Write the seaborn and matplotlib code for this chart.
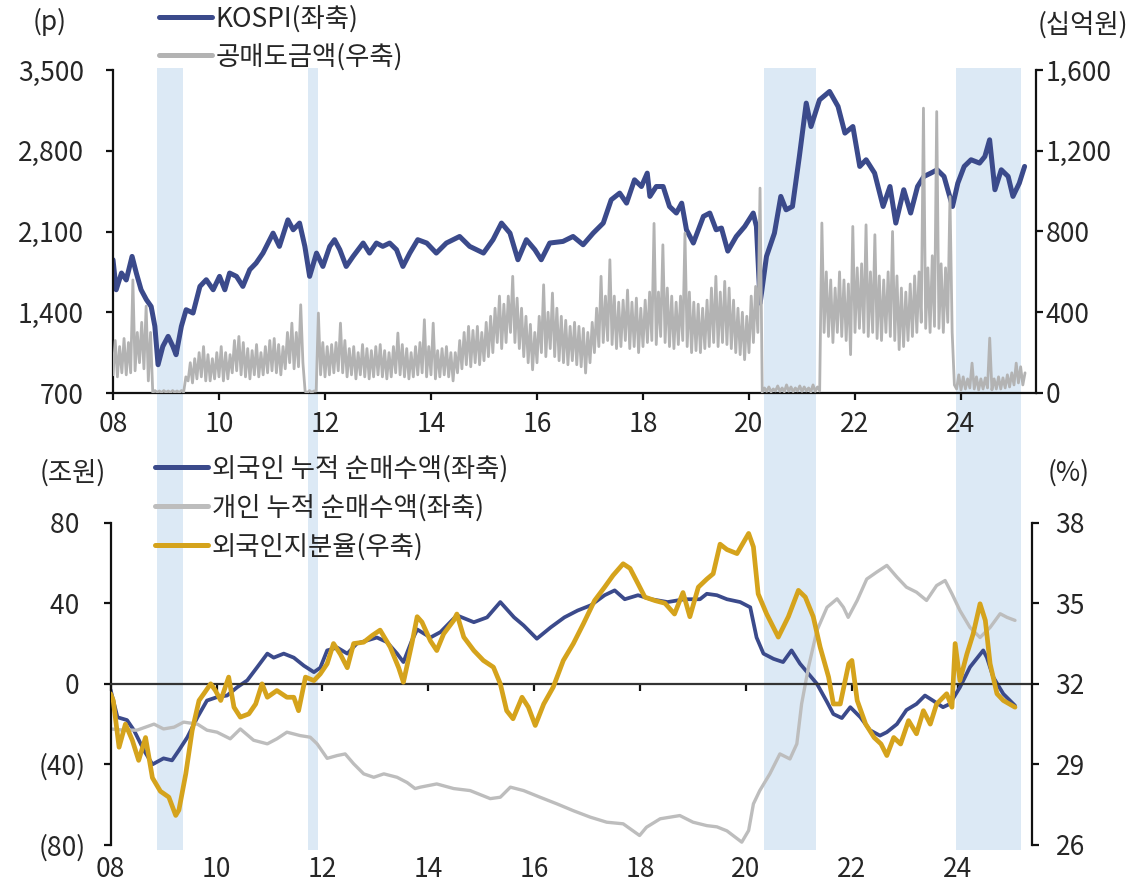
import numpy as np
import pandas as pd
import matplotlib
matplotlib.use("Agg")
import matplotlib.pyplot as plt
import seaborn as sns
from matplotlib.lines import Line2D

sns.set_theme(style="white")
plt.rcParams["font.family"] = ["Noto Sans CJK KR", "DejaVu Sans"]
plt.rcParams["axes.unicode_minus"] = False

# ---------------- data ----------------
# shaded periods (short-selling ban), decimal years
shade_start = [2008.83, 2011.68, 2020.28, 2023.91]
shade_end = [2009.33, 2011.87, 2021.26, 2025.14]

# KOSPI (p, left axis of top panel)
kospi_t = [2008.00, 2008.06, 2008.16, 2008.25, 2008.36, 2008.44, 2008.53, 2008.63, 2008.72, 2008.79,
           2008.85, 2008.94, 2009.04, 2009.13, 2009.19, 2009.29, 2009.38, 2009.51, 2009.64, 2009.76,
           2009.89, 2010.01, 2010.11, 2010.20, 2010.33, 2010.45, 2010.58, 2010.70, 2010.83, 2011.02,
           2011.14, 2011.30, 2011.40, 2011.52, 2011.62, 2011.71, 2011.84, 2011.96, 2012.09, 2012.18,
           2012.28, 2012.40, 2012.53, 2012.72, 2012.84, 2012.97, 2013.09, 2013.22, 2013.35, 2013.47,
           2013.60, 2013.75, 2013.92, 2014.10, 2014.29, 2014.54, 2014.73, 2014.99, 2015.17, 2015.33,
           2015.49, 2015.64, 2015.80, 2015.96, 2016.08, 2016.24, 2016.49, 2016.68, 2016.87, 2017.06,
           2017.25, 2017.40, 2017.56, 2017.69, 2017.84, 2017.97, 2018.08, 2018.13, 2018.25, 2018.38,
           2018.50, 2018.63, 2018.73, 2018.82, 2018.95, 2019.14, 2019.26, 2019.38, 2019.48, 2019.60,
           2019.76, 2019.92, 2020.08, 2020.14, 2020.21, 2020.33, 2020.48, 2020.60, 2020.70, 2020.82,
           2020.95, 2021.08, 2021.17, 2021.33, 2021.52, 2021.68, 2021.81, 2021.96, 2022.09, 2022.21,
           2022.37, 2022.53, 2022.66, 2022.77, 2022.92, 2023.05, 2023.18, 2023.30, 2023.43, 2023.55,
           2023.68, 2023.84, 2023.94, 2024.06, 2024.19, 2024.35, 2024.45, 2024.54, 2024.64, 2024.76,
           2024.89, 2024.98, 2025.10, 2025.20]
kospi_v = [1855, 1595, 1740, 1680, 1884, 1740, 1595, 1509, 1450, 1278,
           945, 1104, 1191, 1104, 1032, 1278, 1422, 1393, 1624, 1682,
           1595, 1711, 1595, 1740, 1711, 1624, 1769, 1826, 1913, 2086,
           1971, 2201, 2115, 2173, 1971, 1711, 1913, 1797, 1971, 2029,
           1942, 1797, 1884, 2000, 1913, 2000, 1971, 2000, 1942, 1797,
           1913, 2029, 2000, 1913, 2000, 2057, 1971, 1913, 2029, 2173,
           2086, 1855, 2029, 1942, 1855, 2000, 2014, 2057, 1985, 2086,
           2173, 2375, 2433, 2346, 2548, 2490, 2606, 2404, 2490, 2490,
           2317, 2260, 2346, 2115, 2000, 2231, 2260, 2115, 2130, 1930,
           2057, 2144, 2260, 2144, 1480, 1884, 2086, 2404, 2288, 2317,
           2750, 3213, 3010, 3241, 3314, 3184, 2953, 3010, 2664, 2722,
           2606, 2317, 2490, 2173, 2462, 2260, 2490, 2577, 2606, 2635,
           2577, 2317, 2519, 2664, 2722, 2693, 2750, 2895, 2462, 2635,
           2577, 2404, 2519, 2664]

# short-selling amount (KRW bn, right axis of top panel): monthly readings,
# one early in the month and one mid-month, Jan 2008 .. Mar 2025
short_early = [90, 80, 100, 90, 100, 110, 150, 120, 60, 2, 3, 2,
               3, 2, 3, 2, 5, 60, 50, 70, 80, 60, 60, 70,
               80, 60, 70, 100, 110, 90, 80, 70, 90, 80, 90, 100,
               110, 100, 90, 120, 150, 120, 130, 150, 2, 3, 10, 90,
               80, 90, 100, 110, 100, 80, 90, 70, 90, 80, 70, 80,
               90, 80, 70, 80, 100, 90, 80, 70, 80, 90, 100, 80,
               90, 70, 80, 90, 80, 60, 100, 120, 140, 130, 150, 140,
               160, 180, 200, 250, 220, 250, 300, 250, 220, 180, 150, 115,
               150, 200, 180, 220, 180, 160, 150, 140, 160, 140, 130, 99,
               150, 200, 230, 250, 260, 240, 220, 230, 260, 220, 230, 200,
               230, 250, 260, 240, 280, 250, 230, 220, 240, 260, 230, 200,
               210, 200, 220, 230, 250, 230, 250, 240, 220, 200, 190, 165,
               200, 250, 300, 5, 8, 6, 10, 8, 6, 9, 7, 10,
               8, 10, 6, 8, 10, 300, 280, 250, 300, 280, 260, 190,
               300, 320, 300, 280, 300, 270, 260, 300, 280, 260, 215, 230,
               260, 280, 300, 350, 320, 300, 330, 320, 300, 350, 300, 20,
               15, 20, 25, 20, 15, 20, 25, 15, 20, 20, 25, 30,
               40, 50, 40]
short_mid = [260, 230, 270, 250, 560, 300, 350, 430, 300, 12, 10, 12,
             10, 12, 10, 12, 80, 150, 170, 200, 230, 190, 170, 200,
             230, 200, 190, 260, 280, 250, 220, 210, 240, 200, 230, 260,
             270, 240, 230, 300, 346, 300, 437, 8, 12, 10, 396, 250,
             230, 240, 250, 346, 260, 220, 230, 200, 240, 220, 210, 230,
             240, 210, 200, 230, 297, 240, 220, 200, 230, 250, 363, 230,
             346, 210, 220, 230, 200, 200, 260, 300, 330, 310, 330, 300,
             350, 380, 420, 480, 440, 480, 578, 470, 420, 380, 340, 300,
             380, 536, 400, 495, 420, 380, 360, 330, 350, 330, 320, 300,
             350, 420, 578, 480, 660, 480, 450, 460, 510, 450, 470, 420,
             460, 500, 840, 500, 734, 520, 480, 450, 480, 792, 500, 450,
             440, 420, 460, 520, 578, 500, 553, 520, 460, 420, 400, 380,
             480, 528, 1015, 25, 30, 20, 35, 25, 40, 30, 25, 35,
             30, 25, 40, 30, 842, 600, 560, 520, 600, 560, 540, 825,
             620, 640, 833, 600, 784, 580, 560, 600, 800, 580, 520, 500,
             540, 580, 600, 1411, 620, 680, 1394, 640, 620, 973, 40, 90,
             80, 70, 148, 80, 70, 75, 272, 70, 80, 75, 90, 100,
             148, 130, 100]

# foreign cumulative net buying (KRW tn, left axis of bottom panel)
foreign_t = [2008.00, 2008.13, 2008.31, 2008.44, 2008.63, 2008.79, 2009.00, 2009.16, 2009.29, 2009.45,
             2009.64, 2009.82, 2010.01, 2010.20, 2010.39, 2010.58, 2010.77, 2010.96, 2011.08, 2011.27,
             2011.46, 2011.65, 2011.84, 2011.96, 2012.09, 2012.28, 2012.47, 2012.65, 2012.84, 2013.03,
             2013.22, 2013.41, 2013.53, 2013.69, 2013.79, 2014.04, 2014.23, 2014.54, 2014.86, 2015.11,
             2015.36, 2015.62, 2015.80, 2016.05, 2016.31, 2016.57, 2016.82, 2017.07, 2017.33, 2017.52,
             2017.71, 2017.96, 2018.21, 2018.52, 2018.84, 2019.13, 2019.26, 2019.45, 2019.64, 2019.89,
             2020.08, 2020.20, 2020.33, 2020.52, 2020.70, 2020.86, 2021.02, 2021.18, 2021.34, 2021.53,
             2021.65, 2021.81, 2021.97, 2022.16, 2022.34, 2022.53, 2022.66, 2022.85, 2023.03, 2023.22,
             2023.38, 2023.53, 2023.72, 2023.85, 2024.04, 2024.23, 2024.48, 2024.55, 2024.67, 2024.86,
             2025.08]
foreign_v = [-3, -16.6, -18, -23, -33, -40, -37, -38, -33, -26.5,
             -16.6, -8.3, -6.6, -5.8, -1.7, 1.7, 8.3, 15, 13, 15,
             13, 9, 5.8, 8, 16.6, 18, 15, 20, 21.5, 23,
             20.7, 15, 10.8, 21.5, 27, 23, 25.7, 34, 30.6, 33,
             40.6, 33, 29, 22.4, 28, 33, 36.4, 39, 44, 46.4,
             42, 44, 42, 40.6, 42, 42, 44.7, 44, 42, 40.6,
             38, 23, 15, 12.4, 10.8, 16.6, 10, 5, 0, -9,
             -15, -17, -11.6, -16.6, -23, -25.7, -24, -20, -13, -10,
             -5.8, -8.3, -11.6, -10, -1.7, 8.3, 16.6, 13, 3.3, -5,
             -10.8]

# individual cumulative net buying (KRW tn, left axis of bottom panel)
indiv_t = [2008.00, 2008.25, 2008.50, 2008.82, 2009.00, 2009.20, 2009.38, 2009.64, 2009.82, 2010.01,
           2010.26, 2010.45, 2010.70, 2010.96, 2011.14, 2011.33, 2011.58, 2011.77, 2011.90, 2012.09,
           2012.28, 2012.43, 2012.59, 2012.78, 2012.97, 2013.16, 2013.41, 2013.60, 2013.75, 2013.85,
           2014.16, 2014.48, 2014.79, 2015.17, 2015.36, 2015.55, 2015.80, 2016.11, 2016.43, 2016.74,
           2017.06, 2017.37, 2017.68, 2017.99, 2018.12, 2018.38, 2018.75, 2019.00, 2019.26, 2019.45,
           2019.64, 2019.92, 2020.05, 2020.14, 2020.26, 2020.45, 2020.64, 2020.83, 2020.96, 2021.05,
           2021.18, 2021.34, 2021.53, 2021.72, 2021.84, 2021.93, 2022.10, 2022.28, 2022.47, 2022.66,
           2022.85, 2023.03, 2023.22, 2023.41, 2023.60, 2023.76, 2023.89, 2024.04, 2024.23, 2024.42,
           2024.61, 2024.80, 2024.93, 2025.08]
indiv_v = [-22.4, -23, -23, -20, -22.4, -21.5, -19, -20, -23, -24,
           -27.3, -22.4, -28, -29.8, -27.3, -24, -25.7, -26.5, -29.8, -37,
           -35.6, -34.8, -39.7, -44.7, -46.4, -44.7, -46.4, -49, -52, -51.3,
           -49.7, -52, -53, -57, -56.3, -51.3, -53, -56.3, -59.6, -63,
           -66.2, -68.7, -69.5, -75.3, -71.2, -67, -65.4, -68.7, -70.4, -71,
           -73, -78.6, -72.8, -59.6, -53, -44.7, -34.8, -37.3, -29.8, -10,
           8.3, 26.5, 38, 42.2, 38, 33, 41.4, 52, 55.5, 58.8,
           53, 48, 45.5, 41.4, 48.8, 51.3, 44.7, 36.4, 28, 23,
           28, 34.8, 33, 31.5]

# foreign ownership ratio (%, right axis of bottom panel)
own_t = [2008.00, 2008.05, 2008.16, 2008.28, 2008.41, 2008.53, 2008.66, 2008.79, 2008.94, 2009.10,
         2009.23, 2009.29, 2009.42, 2009.54, 2009.67, 2009.76, 2009.89, 2009.98, 2010.08, 2010.23,
         2010.33, 2010.45, 2010.61, 2010.74, 2010.86, 2010.96, 2011.14, 2011.33, 2011.46, 2011.55,
         2011.68, 2011.84, 2011.96, 2012.09, 2012.21, 2012.34, 2012.47, 2012.59, 2012.78, 2012.94,
         2013.09, 2013.28, 2013.44, 2013.53, 2013.69, 2013.79, 2013.88, 2014.04, 2014.16, 2014.29,
         2014.48, 2014.54, 2014.67, 2014.86, 2015.04, 2015.23, 2015.36, 2015.48, 2015.60, 2015.77,
         2015.89, 2016.02, 2016.18, 2016.36, 2016.55, 2016.74, 2016.93, 2017.14, 2017.33, 2017.49,
         2017.68, 2017.81, 2017.96, 2018.09, 2018.28, 2018.47, 2018.65, 2018.81, 2018.94, 2019.10,
         2019.26, 2019.38, 2019.51, 2019.64, 2019.83, 2020.05, 2020.14, 2020.23, 2020.39, 2020.61,
         2020.80, 2020.99, 2021.12, 2021.27, 2021.40, 2021.56, 2021.65, 2021.78, 2021.94, 2022.00,
         2022.10, 2022.26, 2022.42, 2022.55, 2022.66, 2022.79, 2022.92, 2023.07, 2023.22, 2023.35,
         2023.48, 2023.60, 2023.79, 2023.89, 2023.95, 2024.04, 2024.17, 2024.29, 2024.42, 2024.52,
         2024.61, 2024.74, 2024.86, 2025.08]
own_v = [31.63, 31.38, 29.64, 30.5, 29.9, 29.15, 30.0, 28.5, 28.0, 27.78,
         27.1, 27.3, 28.65, 30.26, 31.38, 31.63, 32.0, 31.75, 31.38, 32.25,
         31.13, 30.76, 30.88, 31.25, 32.0, 31.5, 31.75, 31.5, 31.5, 31.0,
         32.25, 32.12, 32.37, 32.75, 33.5, 33.1, 32.6, 33.5, 33.55, 33.8,
         34.0, 33.37, 32.6, 32.06, 33.5, 34.5, 34.3, 33.6, 33.24, 33.86,
         34.36, 34.6, 33.74, 33.24, 32.87, 32.62, 32.0, 31.0, 30.7, 31.5,
         31.13, 30.45, 31.25, 31.88, 32.87, 33.5, 34.24, 35.1, 35.6, 36.04,
         36.47, 36.3, 35.73, 35.23, 35.1, 35.0, 34.6, 35.4, 34.5, 35.6,
         35.9, 36.1, 37.2, 37.0, 36.85, 37.6, 37.1, 35.35, 34.6, 33.74,
         34.5, 35.48, 35.23, 34.5, 33.37, 32.25, 31.25, 31.25, 32.75, 32.87,
         31.38, 30.5, 30.0, 29.76, 29.33, 30.0, 29.76, 30.63, 30.14, 31.0,
         30.5, 31.25, 31.63, 31.13, 33.5, 32.12, 33.1, 33.86, 34.98, 34.36,
         32.75, 31.63, 31.38, 31.13]

year_ticks = [2008, 2010, 2012, 2014, 2016, 2018, 2020, 2022, 2024]
year_labels = ["08", "10", "12", "14", "16", "18", "20", "22", "24"]
kospi_ticks = [700, 1400, 2100, 2800, 3500]
kospi_labels = ["700", "1,400", "2,100", "2,800", "3,500"]
short_ticks = [0, 400, 800, 1200, 1600]
short_labels = ["0", "400", "800", "1,200", "1,600"]
flow_ticks = [-80, -40, 0, 40, 80]
flow_labels = ["(80)", "(40)", "0 ", "40 ", "80 "]
own_ticks = [26, 29, 32, 35, 38]
own_labels = ["26", "29", "32", "35", "38"]

# ---------------- style ----------------
NAVY = "#3b4a8b"
GOLD = "#d5a31c"
GRAY_SS = "#b3b3b3"
GRAY_IND = "#bdbdbd"
SHADE = "#dce9f5"
TXT = "#262626"
FS = 19

W, H = 1147, 889
fig = plt.figure(figsize=(W / 100, H / 100), dpi=100)


def frac(left, top, right, bottom):
    return [left / W, 1 - bottom / H, (right - left) / W, (bottom - top) / H]


# background shading spanning both panels
ax_bg = fig.add_axes(frac(113, 68, 1036, 850))
ax_bg.set_xlim(2008, 2008 + 923 / 53)
ax_bg.set_ylim(0, 1)
for s0, s1 in zip(shade_start, shade_end):
    ax_bg.axvspan(s0, s1, color=SHADE, lw=0)
ax_bg.axis("off")

# ---------- top panel ----------
ax1 = fig.add_axes(frac(113, 70, 1036, 393), facecolor="none")
sns.lineplot(x=kospi_t, y=kospi_v, ax=ax1, color=NAVY, linewidth=3.6, sort=False, estimator=None)
ax1.set_xlim(2008, 2008 + 923 / 53)
ax1.set_ylim(700, 3500)

ax1r = ax1.twinx()
months = 2008 + np.arange(len(short_early)) / 12.0
ss_x = np.column_stack([months, months + 1 / 24.0]).ravel()
ss_y = np.column_stack([short_early, short_mid]).ravel()
sns.lineplot(x=ss_x, y=ss_y, ax=ax1r, color=GRAY_SS, linewidth=2.0, sort=False, estimator=None)
ax1r.set_ylim(0, 1600)

# ---------- bottom panel ----------
ax2 = fig.add_axes(frac(110.6, 522.7, 1032, 850), facecolor="none")
sns.lineplot(x=foreign_t, y=foreign_v, ax=ax2, color=NAVY, linewidth=2.7, sort=False, estimator=None)
sns.lineplot(x=indiv_t, y=indiv_v, ax=ax2, color=GRAY_IND, linewidth=2.4, sort=False, estimator=None)
ax2.set_xlim(2008, 2008 + 921.4 / 52.95)
ax2.set_ylim(-82.5, 80)

ax2r = ax2.twinx()
sns.lineplot(x=own_t, y=own_v, ax=ax2r, color=GOLD, linewidth=3.4, sort=False, estimator=None)
ax2r.set_ylim(32 - 82.5 * 0.075, 38)

# ---------- axes styling ----------
for a in (ax1, ax1r, ax2, ax2r):
    for s in a.spines.values():
        s.set_visible(False)
        s.set_color("#111111")
        s.set_linewidth(1.6)
    a.set_xlabel("")
    a.set_ylabel("")
    a.grid(False)

ax1.spines["left"].set_visible(True)
ax1.spines["bottom"].set_visible(True)
ax1r.spines["right"].set_visible(True)
ax1.set_xticks(year_ticks, year_labels)
ax1.set_yticks(kospi_ticks, kospi_labels)
ax1r.set_yticks(short_ticks, short_labels)
ax1.tick_params(axis="x", direction="out", length=5, width=1.6, color="#111111", pad=8,
                labelsize=FS, labelcolor=TXT, bottom=True)
ax1.tick_params(axis="y", direction="out", length=5, width=1.6, color="#111111", pad=16,
                labelsize=FS, labelcolor=TXT, left=True)
ax1r.tick_params(axis="y", direction="out", length=5, width=1.6, color="#111111", pad=2,
                 labelsize=FS, labelcolor=TXT, right=True)

ax2.spines["left"].set_visible(True)
ax2.spines["left"].set_bounds(-80, 80)
ax2.spines["bottom"].set_visible(True)
ax2.spines["bottom"].set_position(("data", 0))
ax2.spines["bottom"].set_color("#333333")
ax2r.spines["right"].set_visible(True)
ax2r.spines["right"].set_bounds(26, 38)
ax2.set_xticks(year_ticks)
ax2.tick_params(axis="x", direction="out", length=5, width=1.6, color="#111111",
                labelbottom=False, bottom=True)
ax2.set_yticks(flow_ticks, flow_labels)
ax2.tick_params(axis="y", direction="out", length=5, width=1.6, color="#111111", pad=13,
                labelsize=FS, labelcolor=TXT, left=True)
ax2r.set_yticks(own_ticks, own_labels)
ax2r.tick_params(axis="y", direction="out", length=5, width=1.6, color="#111111", pad=12,
                 labelsize=FS, labelcolor=TXT, right=True)

sec = ax2.secondary_xaxis(0)
sec.set_xticks(year_ticks, year_labels)
sec.tick_params(axis="x", length=0, pad=4, labelsize=FS, labelcolor=TXT)
sec.spines["bottom"].set_visible(False)

# ---------- legends & unit labels ----------
top_handles = [Line2D([], [], color=NAVY, lw=3.6), Line2D([], [], color=GRAY_SS, lw=3.6)]
fig.legend(top_handles, ["KOSPI(좌축)", "공매도금액(우축)"], loc="upper left",
           bbox_to_anchor=(159 / W, 1 - 5 / H), frameon=False, fontsize=FS,
           handlelength=2.0, handletextpad=0.15, labelspacing=0.42, borderpad=0,
           borderaxespad=0, labelcolor=TXT)
bot_handles = [Line2D([], [], color=NAVY, lw=3.6), Line2D([], [], color=GRAY_IND, lw=3.6),
               Line2D([], [], color=GOLD, lw=3.6)]
fig.legend(bot_handles, ["외국인 누적 순매수액(좌축)", "개인 누적 순매수액(좌축)", "외국인지분율(우축)"],
           loc="upper left", bbox_to_anchor=(155 / W, 1 - 455 / H), frameon=False, fontsize=FS,
           handlelength=2.0, handletextpad=0.15, labelspacing=0.45, borderpad=0,
           borderaxespad=0, labelcolor=TXT)

fig.text(50 / W, 1 - 22 / H, "(p)", ha="center", va="center", fontsize=FS, color=TXT)
fig.text(1083 / W, 1 - 25 / H, "(십억원)", ha="center", va="center", fontsize=FS, color=TXT)
fig.text(73 / W, 1 - 473 / H, "(조원)", ha="center", va="center", fontsize=FS, color=TXT)
fig.text(1069 / W, 1 - 473 / H, "(%)", ha="center", va="center", fontsize=FS, color=TXT)

fig.savefig("out.png", dpi=100)
